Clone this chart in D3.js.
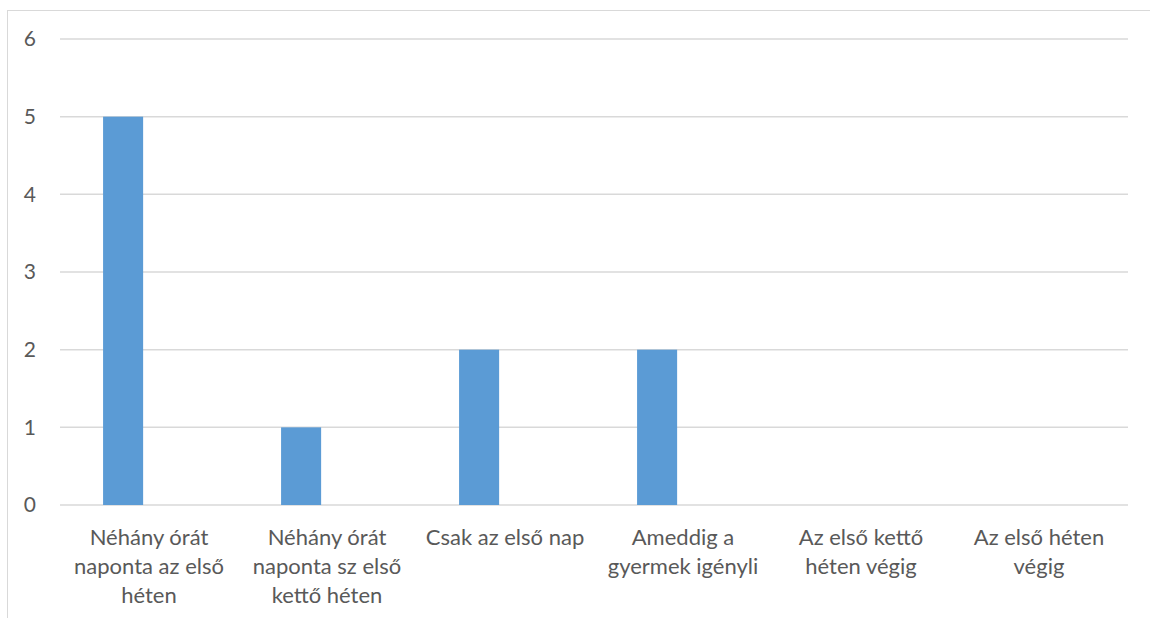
<!DOCTYPE html>
<html>
<head>
<meta charset="utf-8">
<script src="https://cdn.jsdelivr.net/npm/d3@7"></script>
<style>
  html, body { margin: 0; padding: 0; background: #fff; }
  svg { display: block; }
</style>
</head>
<body>
<svg id="chart" width="1150" height="618"></svg>
<script>
const categories = [
  "Néhány órát naponta az első héten",
  "Néhány órát naponta sz első kettő héten",
  "Csak az első nap",
  "Ameddig a gyermek igényli",
  "Az első kettő héten végig",
  "Az első héten végig"
];
const categoryLines = [
  ["Néhány órát", "naponta az első", "héten"],
  ["Néhány órát", "naponta sz első", "kettő héten"],
  ["Csak az első nap"],
  ["Ameddig a", "gyermek igényli"],
  ["Az első kettő", "héten végig"],
  ["Az első héten", "végig"]
];
const values = [5, 1, 2, 2, 0, 0];
const yTicks = [0, 1, 2, 3, 4, 5, 6];

const svg = d3.select("#chart");
const font = "Lato, 'Open Sans', sans-serif";
const textColor = "#595959";

// outer chart border
svg.append("rect")
  .attr("x", 7.5).attr("y", 10.5)
  .attr("width", 1300).attr("height", 800)
  .attr("fill", "none").attr("stroke", "#d9d9d9").attr("stroke-width", 1);

const plot = { left: 60, right: 1128, top: 39, bottom: 505 };

const x = d3.scaleBand().domain(categories).range([plot.left, plot.right]).padding(0);
const y = d3.scaleLinear().domain([0, 6]).range([plot.bottom, plot.top]);

// gridlines
svg.append("g").selectAll("line").data(yTicks).join("line")
  .attr("x1", plot.left).attr("x2", plot.right)
  .attr("y1", d => y(d)).attr("y2", d => y(d))
  .attr("stroke", "#d9d9d9").attr("stroke-width", 1.5);

// y axis labels
const yAxis = d3.axisLeft(y).tickValues(yTicks).tickSize(0).tickPadding(0).tickFormat(d3.format("d"));
const gy = svg.append("g").attr("transform", `translate(36,0)`).call(yAxis);
gy.select(".domain").remove();
gy.selectAll("text").attr("font-family", font).attr("font-size", 21).attr("fill", textColor);

// bars (single series placed in left part of each category band)
const bw = x.bandwidth();
svg.append("g").selectAll("rect").data(values).join("rect")
  .attr("x", (d, i) => x(categories[i]) + bw * 0.242)
  .attr("width", bw * 0.225)
  .attr("y", d => y(d))
  .attr("height", d => y(0) - y(d))
  .attr("fill", "#5B9BD5");

// category labels
const gx = svg.append("g");
categories.forEach((c, i) => {
  const t = gx.append("text")
    .attr("x", x(c) + bw / 2)
    .attr("y", 545)
    .attr("text-anchor", "middle")
    .attr("font-family", font).attr("font-size", 22).attr("fill", textColor);
  categoryLines[i].forEach((ln, j) => {
    t.append("tspan").attr("x", x(c) + bw / 2).attr("dy", j === 0 ? 0 : 29).text(ln);
  });
});
</script>
</body>
</html>
